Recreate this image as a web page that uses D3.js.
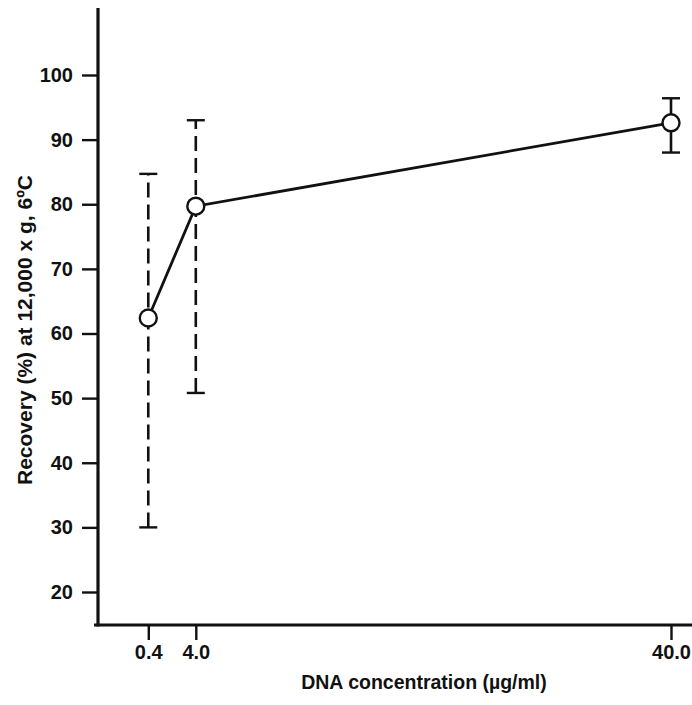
<!DOCTYPE html>
<html>
<head>
<meta charset="utf-8">
<script src="https://cdn.jsdelivr.net/npm/d3@7"></script>
<style>
  body { margin: 0; background: #fff; }
  svg { display: block; font-family: "Liberation Sans", Arial, sans-serif; font-weight: bold; }
</style>
</head>
<body>
<svg id="chart"></svg>
<script>
// data
const concentrations = [0.4, 4.0, 40.0];
const recovery = [62.4, 79.7, 92.6];
const errLow = [30.0, 50.8, 88.0];
const errHigh = [84.7, 93.0, 96.4];
const dashedBars = [true, true, false];
const xTicks = [0.4, 4.0, 40.0];
const xTickLabels = ['0.4', '4.0', '40.0'];
const yTicks = [20, 30, 40, 50, 60, 70, 80, 90, 100];

const width = 692;
const height = 705;

const svg = d3.select('#chart')
  .attr('width', width)
  .attr('height', height);

const x = d3.scaleLinear().domain([0, 40]).range([143, 671]);
const y = d3.scaleLinear().domain([20, 100]).range([592, 75]);

const axisX = 98;   // y axis position
const axisY = 625;  // x axis position

// y axis
const yAxis = svg.append('g')
  .attr('transform', `translate(${axisX},0)`)
  .call(d3.axisLeft(y).tickValues(yTicks).tickSize(16).tickPadding(9).tickFormat(d3.format('d')));
yAxis.select('.domain').remove();
yAxis.selectAll('.tick line').attr('stroke', '#111').attr('stroke-width', 2.4);
yAxis.selectAll('.tick text')
  .attr('fill', '#111')
  .style('font-size', '20px')
  .style('font-weight', 'bold');

// x axis
const xAxis = svg.append('g')
  .attr('transform', `translate(0,${axisY})`)
  .call(d3.axisBottom(x).tickValues(xTicks).tickSize(15).tickPadding(5)
    .tickFormat((d, i) => xTickLabels[i]));
xAxis.select('.domain').remove();
xAxis.selectAll('.tick line').attr('stroke', '#111').attr('stroke-width', 2.4);
xAxis.selectAll('.tick text')
  .attr('fill', '#111')
  .style('font-size', '20px')
  .style('font-weight', 'bold');

// axis lines (heavy L shape as in the figure)
svg.append('line')
  .attr('x1', axisX).attr('x2', axisX)
  .attr('y1', 8).attr('y2', axisY + 1.5)
  .attr('stroke', '#111').attr('stroke-width', 3.2);
svg.append('line')
  .attr('x1', axisX - 4).attr('x2', 692)
  .attr('y1', axisY).attr('y2', axisY)
  .attr('stroke', '#111').attr('stroke-width', 3.2);

// axis titles
svg.append('text')
  .attr('transform', `translate(32,330) rotate(-90)`)
  .attr('text-anchor', 'middle')
  .attr('fill', '#111')
  .style('font-size', '21px')
  .text('Recovery (%) at 12,000 x g, 6ºC');

svg.append('text')
  .attr('x', 424)
  .attr('y', 689)
  .attr('text-anchor', 'middle')
  .attr('fill', '#111')
  .style('font-size', '19.5px')
  .text('DNA concentration (µg/ml)');

const points = concentrations.map((c, i) => ({
  x: c, y: recovery[i], lo: errLow[i], hi: errHigh[i], dashed: dashedBars[i]
}));

// error bars
const bars = svg.append('g');
bars.selectAll('.err')
  .data(points)
  .enter()
  .append('line')
  .attr('x1', d => x(d.x)).attr('x2', d => x(d.x))
  .attr('y1', d => y(d.lo)).attr('y2', d => y(d.hi))
  .attr('stroke', '#111')
  .attr('stroke-width', 2.6)
  .attr('stroke-dasharray', d => d.dashed ? '15,7' : null);

const capW = 9;
['lo', 'hi'].forEach(k => {
  bars.selectAll(`.cap-${k}`)
    .data(points)
    .enter()
    .append('line')
    .attr('x1', d => x(d.x) - capW).attr('x2', d => x(d.x) + capW)
    .attr('y1', d => y(d[k])).attr('y2', d => y(d[k]))
    .attr('stroke', '#111')
    .attr('stroke-width', 2.4);
});

// connecting line
svg.append('path')
  .datum(points)
  .attr('fill', 'none')
  .attr('stroke', '#111')
  .attr('stroke-width', 2.8)
  .attr('d', d3.line().x(d => x(d.x)).y(d => y(d.y)));

// markers
svg.selectAll('.pt')
  .data(points)
  .enter()
  .append('circle')
  .attr('cx', d => x(d.x))
  .attr('cy', d => y(d.y))
  .attr('r', 8.5)
  .attr('fill', '#fff')
  .attr('stroke', '#111')
  .attr('stroke-width', 2.4);
</script>
</body>
</html>
